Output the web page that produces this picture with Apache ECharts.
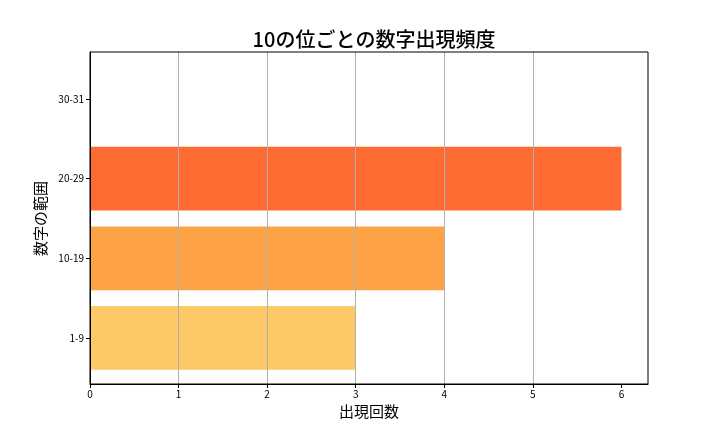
<!DOCTYPE html>
<html><head><meta charset="utf-8">
<script src="https://cdn.jsdelivr.net/npm/echarts@6/dist/echarts.min.js"></script>
<style>html,body{margin:0;padding:0;background:#fff}#c{width:720px;height:432px}</style>
</head><body><div id="c"></div>
<script>
const categories = ['1-9', '10-19', '20-29', '30-31'];
const counts = [3, 4, 6, 0];
const barColors = ['#fdc966', '#fda346', '#fd6b33', '#fd6b33'];
const xTicks = [0, 1, 2, 3, 4, 5, 6];
const titleText = '10の位ごとの数字出現頻度';
const xName = '出現回数';
const yName = '数字の範囲';
const font = '"Noto Sans CJK JP", "DejaVu Sans", sans-serif';

const chart = echarts.init(document.getElementById('c'), null, {renderer: 'canvas'});
chart.setOption({
  animation: false,
  backgroundColor: '#fff',
  title: {
    text: titleText, left: 369, top: 24, textAlign: 'center',
    textStyle: {fontFamily: font, fontSize: 20, fontWeight: 500, color: '#000'}
  },
  grid: [
    {left: 90, right: 72, top: 52, bottom: 48, show: true, borderColor: '#000', borderWidth: 1, backgroundColor: 'transparent', z: 6},
    {left: 90, right: 72, top: 59.3, bottom: 54.3}
  ],
  xAxis: [{
    gridIndex: 0, type: 'value', min: 0, max: 6.3, interval: 1, z: 5,
    name: xName, nameLocation: 'middle', nameGap: 20,
    nameTextStyle: {fontFamily: font, fontSize: 15, color: '#000'},
    axisLine: {show: true, lineStyle: {color: '#000'}},
    axisTick: {show: true, length: 4, customValues: xTicks, lineStyle: {color: '#000'}},
    axisLabel: {fontFamily: font, fontSize: 10, color: '#000', margin: 5, customValues: xTicks},
    splitLine: {show: true, showMinLine: false, showMaxLine: false, lineStyle: {color: '#b0b0b0', width: 1}}
  }, {
    gridIndex: 1, type: 'value', min: 0, max: 6.3, show: false
  }],
  yAxis: [{
    gridIndex: 0, type: 'value', min: 0, max: 1, show: true,
    axisLine: {show: true, lineStyle: {color: '#000'}}, axisTick: {show: false},
    axisLabel: {show: false}, splitLine: {show: false}, z: 6
  }, {
    gridIndex: 1, type: 'category', data: categories,
    name: yName, nameLocation: 'middle', nameGap: 42,
    nameTextStyle: {fontFamily: font, fontSize: 15, color: '#000'},
    axisLine: {show: false},
    axisTick: {show: true, alignWithLabel: true, length: 4, lineStyle: {color: '#000'}},
    axisLabel: {fontFamily: font, fontSize: 10, color: '#000', margin: 6},
    splitLine: {show: false}
  }],
  series: [{
    type: 'bar', xAxisIndex: 1, yAxisIndex: 1, barWidth: '80%',
    data: counts.map((v, i) => ({value: v, itemStyle: {color: barColors[i]}}))
  }]
});
</script></body></html>
